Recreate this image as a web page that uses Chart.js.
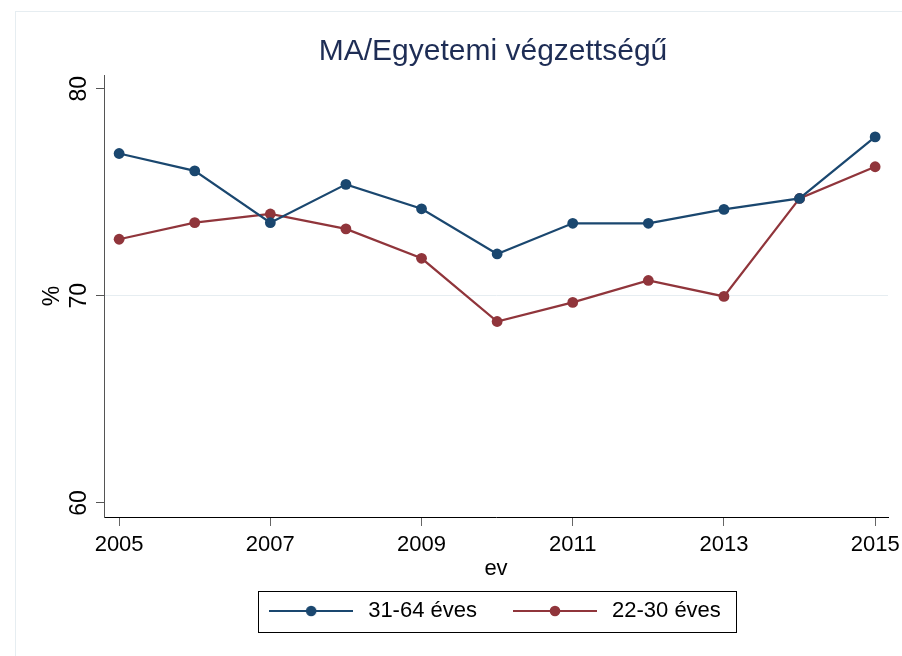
<!DOCTYPE html>
<html>
<head>
<meta charset="utf-8">
<script src="https://cdn.jsdelivr.net/npm/chart.js@4.4.1/dist/chart.umd.min.js"></script>
<style>
  html, body { margin: 0; padding: 0; background: #fff; }
  #wrap { width: 902px; height: 656px; }
</style>
</head>
<body>
<div id="wrap"><canvas id="chart"></canvas></div>
<script>
// data
const years = [2005, 2006, 2007, 2008, 2009, 2010, 2011, 2012, 2013, 2014, 2015];
const older = [76.87, 76.03, 73.53, 75.38, 74.2, 72.02, 73.5, 73.5, 74.17, 74.7, 77.67];   // 31-64 éves
const younger = [72.73, 73.53, 73.95, 73.23, 71.81, 68.76, 69.68, 70.74, 69.97, 74.7, 76.23]; // 22-30 éves
const xTicks = [2005, 2007, 2009, 2011, 2013, 2015];
const yTicks = [60, 70, 80];

const FONT = "'Liberation Sans', Arial, Helvetica, sans-serif";
const BLUE = '#1a476f';
const RED = '#90353b';

// legend sample: line with a dot in the middle
function sample(color) {
  const c = document.createElement('canvas');
  c.width = 84; c.height = 12;
  const g = c.getContext('2d');
  g.strokeStyle = color; g.lineWidth = 2;
  g.beginPath(); g.moveTo(0, 6); g.lineTo(84, 6); g.stroke();
  g.fillStyle = color;
  g.beginPath(); g.arc(42, 6, 5.3, 0, Math.PI * 2); g.fill();
  return c;
}

// center title + legend on the plot area, box round the legend, light frame
const frame = {
  id: 'frame',
  afterLayout(chart) {
    const a = chart.chartArea;
    const mid = (a.left + a.right) / 2 - 3;
    [chart.titleBlock, chart.legend].forEach(b => {
      const d = mid - (b.left + b.right) / 2;
      b.left += d; b.right += d;
    });
  },
  beforeDraw(chart) {
    const ctx = chart.ctx;
    ctx.save();
    ctx.strokeStyle = '#e6edf1';
    ctx.lineWidth = 1;
    ctx.strokeRect(15.5, 11.5, 1000, 1000);
    ctx.restore();
  },
  afterDraw(chart) {
    const hb = chart.legend.legendHitBoxes;
    if (!hb || !hb.length) return;
    const ctx = chart.ctx;
    const l = hb[0].left - 7, r = hb[hb.length - 1].left + hb[hb.length - 1].width + 15;
    const t = hb[0].top - 9;
    ctx.save();
    ctx.strokeStyle = '#000';
    ctx.lineWidth = 1;
    ctx.strokeRect(Math.round(l) + 0.5, Math.round(t) + 0.5, Math.round(r - l), 41);
    ctx.restore();
  }
};

new Chart(document.getElementById('chart'), {
  type: 'line',
  data: {
    labels: years,
    datasets: [
      { label: '31-64 éves', data: older, borderColor: BLUE, backgroundColor: BLUE, borderWidth: 2.2,
        pointRadius: 5.4, pointBorderWidth: 0, pointStyle: 'circle', legendSample: sample(BLUE) },
      { label: '22-30 éves', data: younger, borderColor: RED, backgroundColor: RED, borderWidth: 2.2,
        pointRadius: 5.4, pointBorderWidth: 0, pointStyle: 'circle', legendSample: sample(RED) }
    ].map(d => Object.assign(d, { data: d.data.map((v, i) => ({ x: years[i], y: v })) }))
  },
  options: {
    responsive: true,
    maintainAspectRatio: false,
    animation: false,
    layout: { padding: { left: 10, right: 14, top: 10, bottom: 24 } },
    plugins: {
      title: {
        display: true,
        text: 'MA/Egyetemi végzettségű',
        color: '#1e2d55',
        font: { family: FONT, size: 30, weight: 'normal' },
        padding: { top: 24, bottom: 5 }
      },
      legend: {
        display: true,
        position: 'bottom',
        labels: {
          color: '#000',
          font: { family: FONT, size: 22 },
          usePointStyle: true,
          pointStyleWidth: 92,
          padding: 32,
          generateLabels: chart => chart.data.datasets.map((d, i) => ({
            text: d.label, pointStyle: d.legendSample, datasetIndex: i,
            fillStyle: d.borderColor, strokeStyle: d.borderColor, lineWidth: 0, fontColor: '#000'
          }))
        }
      },
      tooltip: { enabled: false }
    },
    scales: {
      x: {
        type: 'linear',
        min: 2004.8,
        max: 2015.17,
        afterBuildTicks: s => { s.ticks = xTicks.map(v => ({ value: v })); },
        afterFit: s => { s.height = 51; s.paddingLeft = 0; s.paddingRight = 0; },
        ticks: {
          color: '#000',
          font: { family: FONT, size: 22 },
          padding: 6,
          maxRotation: 0,
          autoSkip: false,
          callback: v => String(v)
        },
        grid: { drawOnChartArea: false, tickLength: 9, tickColor: '#666', tickWidth: 1 },
        border: { display: true, color: '#000', width: 1 },
        title: { display: true, text: 'ev', color: '#000', font: { family: FONT, size: 22 }, padding: { top: 0, bottom: -14 } }
      },
      y: {
        min: 59.32,
        max: 80.66,
        afterBuildTicks: s => { s.ticks = yTicks.map(v => ({ value: v })); },
        afterFit: s => { s.width = 94; s.paddingTop = 0; s.paddingBottom = 0; },
        ticks: {
          color: '#000',
          font: { family: FONT, size: 23 },
          padding: 4,
          minRotation: 90,
          maxRotation: 90,
          crossAlign: 'center',
          autoSkip: false
        },
        grid: {
          color: c => (c.tick && c.tick.value === 70 ? '#e6edf1' : 'rgba(0,0,0,0)'),
          tickColor: '#555',
          tickLength: 8,
          lineWidth: 1
        },
        border: { display: true, color: '#555', width: 1 },
        title: { display: true, text: '%', color: '#000', font: { family: FONT, size: 23 }, padding: { top: 29, bottom: 0 } }
      }
    }
  },
  plugins: [frame]
});
</script>
</body>
</html>
